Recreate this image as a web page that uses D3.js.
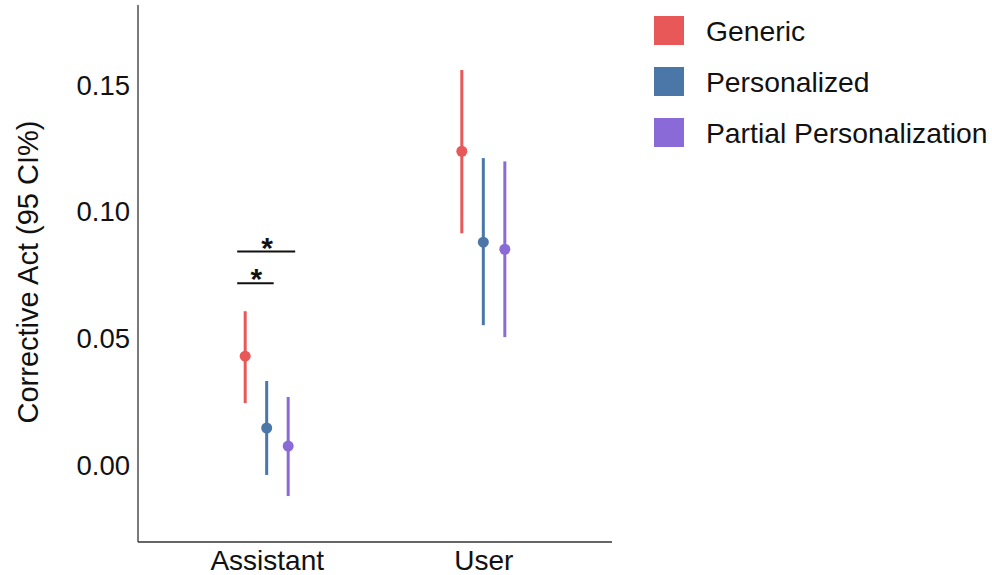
<!DOCTYPE html>
<html><head><meta charset="utf-8">
<script src="https://cdn.jsdelivr.net/npm/d3@7"></script>
<style>body{margin:0;background:#fff}svg{display:block}text{font-family:"Liberation Sans",Arial,sans-serif}</style>
</head><body>
<svg id="c" width="992" height="575"></svg>
<script>
const categories = ["Assistant", "User"];
const series = ["Generic", "Personalized", "Partial Personalization"];
const colors = ["#E85859", "#4A77A8", "#8A6AD6"];
const estimates = [[0.0433, 0.0150, 0.0079], [0.1240, 0.0882, 0.0854]];
const lower = [[0.0248, -0.0035, -0.0118], [0.0917, 0.0555, 0.0508]];
const upper = [[0.0610, 0.0335, 0.0272], [0.1560, 0.1213, 0.1200]];
const yTicks = [0.00, 0.05, 0.10, 0.15];
// significance brackets: [category, seriesFrom, seriesTo, y]
const brackets = [["Assistant", 0, 2, 0.0845], ["Assistant", 0, 1, 0.0720]];

const FONT = "Liberation Sans, Arial, sans-serif";
const svg = d3.select("#c");
const L = 138, R = 612, T = 5, B = 542;
const y = d3.scaleLinear().domain([-0.0299, 0.1816]).range([B, T]);
const x = d3.scalePoint().domain(categories).range([L, R]).padding(0.594);
const dw = 21.5;
const px = (c, i) => x(c) + (i - 1) * dw;

// axes
const gy = svg.append("g").attr("transform", `translate(${L},0)`)
  .call(d3.axisLeft(y).tickValues(yTicks).tickFormat(d3.format(".2f")).tickSize(0).tickPadding(8));
gy.select(".domain").remove();
gy.selectAll("text").attr("font-size", 27.5).attr("fill", "#111").attr("font-family", FONT);
const gx = svg.append("g").attr("transform", `translate(0,${B})`)
  .call(d3.axisBottom(x).tickSize(0).tickPadding(8));
gx.select(".domain").remove();
gx.selectAll("text").attr("font-size", 28).attr("fill", "#111").attr("font-family", FONT);

svg.append("line").attr("x1", L).attr("x2", L).attr("y1", T).attr("y2", B).attr("stroke", "#333").attr("stroke-width", 1.3);
svg.append("line").attr("x1", L).attr("x2", R).attr("y1", B).attr("y2", B).attr("stroke", "#333").attr("stroke-width", 1.3);

svg.append("text").attr("transform", `translate(38,272) rotate(-90)`)
  .attr("text-anchor", "middle").attr("font-size", 29).attr("fill", "#111").text("Corrective Act (95 CI%)");

// marks
categories.forEach((c, ci) => {
  series.forEach((s, si) => {
    const cx = px(c, si);
    svg.append("line").attr("x1", cx).attr("x2", cx)
      .attr("y1", y(lower[ci][si])).attr("y2", y(upper[ci][si]))
      .attr("stroke", colors[si]).attr("stroke-width", 3);
    svg.append("circle").attr("cx", cx).attr("cy", y(estimates[ci][si])).attr("r", 5.5).attr("fill", colors[si]);
  });
});

// brackets
brackets.forEach(([c, a, b, v]) => {
  const x1 = px(c, a) - 8, x2 = px(c, b) + 7;
  svg.append("line").attr("x1", x1).attr("x2", x2).attr("y1", y(v)).attr("y2", y(v)).attr("stroke", "#111").attr("stroke-width", 2);
  svg.append("text").attr("x", (x1 + x2) / 2 + 1).attr("y", y(v) + 6).attr("text-anchor", "middle")
    .attr("font-size", 30).attr("font-weight", "bold").attr("fill", "#111").text("*");
});

// legend
series.forEach((s, i) => {
  const g = svg.append("g").attr("transform", `translate(654,${16 + i * 51})`);
  g.append("rect").attr("width", 30).attr("height", 29).attr("fill", colors[i]);
  g.append("text").attr("x", 52).attr("y", 25).attr("font-size", 28.3).attr("fill", "#111").text(s);
});
</script>
</body></html>
